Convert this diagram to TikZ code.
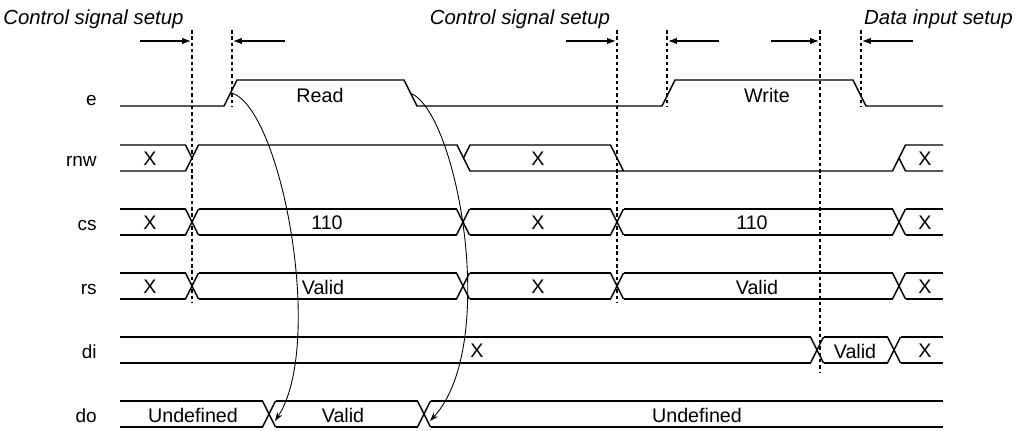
\documentclass[tikz,border=0pt]{standalone}
\usepackage{fontspec}
\setmainfont{Liberation Sans}
\usetikzlibrary{arrows.meta}
\newcommand*{\HalfH}{13}
\newcommand*{\Slope}{6.5}
\newcommand*{\TraceL}{113.5}% 120 minus slope: open left end
\newcommand*{\TraceR}{949.5}% 943 plus slope: open right end
\newcommand*{\BusCells}[3]{% #1 = row name, #2 = row centre, #3 = list of from/to/textx/text
  \foreach \a/\b/\t/\text in {#3} {
    \draw [trace] (\a+\Slope,#2-\HalfH) -- (\b-\Slope,#2-\HalfH)
      (\a+\Slope,#2+\HalfH) -- (\b-\Slope,#2+\HalfH);
    \node [sig] (#1-\t) at (\t,#2+1) {\text};
  }%
}
\newcommand*{\Crossings}[2]{% #1 = row centre, #2 = list of crossing x
  \foreach \c in {#2} {
    \draw [trace] (\c-\Slope,#1-\HalfH) -- (\c+\Slope,#1+\HalfH)
      (\c-\Slope,#1+\HalfH) -- (\c+\Slope,#1-\HalfH);
  }%
}
\tikzset{
  trace/.style={line width=0.8pt, line join=miter},
  guide/.style={line width=0.7pt, dash pattern=on 2pt off 1.6pt},
  setup/.style={line width=0.6pt, -{Latex[length=5pt,width=3.6pt]}},
  cause/.style={line width=0.5pt, -{Stealth[length=5pt,width=3.4pt]}},
  sig/.style={font=\fontsize{11.2}{13}\selectfont, inner sep=0pt},
  rowlabel/.style={font=\fontsize{10.8}{13}\selectfont, anchor=base east, inner sep=0pt},
  heading/.style={font=\fontsize{11.6}{14}\selectfont\itshape, inner sep=0pt}
}

\begin{document}
\begin{tikzpicture}[x=0.02cm, y=-0.02cm]
  \useasboundingbox (0,0) rectangle (1029,430);

  % setup headings
  \node [heading, anchor=base west] (hd-left) at (3,24) {Control signal setup};
  \node [heading, anchor=base] (hd-mid) at (520,24) {Control signal setup};
  \node [heading, anchor=base east] (hd-right) at (1013,24) {Data input setup};

  % guide lines and setup arrows
  \foreach \x/\yb in {192/302, 232/107, 617/302, 667/107, 820/372, 861/107} {
    \draw [guide] (\x,30) -- (\x,\yb);
  }
  \foreach \s/\e [count=\i] in {140/191, 285/233, 566/616, 719/668, 771/819, 913/862} {
    \coordinate (from\i) at (\s,41);
    \coordinate (to\i) at (\e,41);
    \draw [setup] (from\i) -- (to\i);
  }

  % row labels
  \foreach \name/\y in {e/105, rnw/166, cs/230, rs/294, di/358, do/422} {
    \node [rowlabel] (lb-\name) at (97,\y) {\name};
  }

  % e
  \draw [trace] (120,106) -- (224,106) -- (237,80) -- (404,80) -- (417,106)
    -- (662,106) -- (675,80) -- (853,80) -- (866,106) -- (943,106);
  \node [sig] (e-read) at (320,95) {Read};
  \node [sig] (e-write) at (767,95) {Write};

  % rnw
  \draw [trace] (120,145) -- (185.5,145) -- (192,158) -- (185.5,171) -- (120,171);
  \draw [trace] (192,158) -- (198.5,145) -- (457,145) -- (470,171) -- (892.5,171)
    -- (899,158) -- (905.5,145) -- (943,145);
  \draw [trace] (899,158) -- (905.5,171) -- (943,171);
  \draw [trace] (463.5,158) -- (470,145) -- (610.5,145) -- (623.5,171);
  \node [sig] (rnw-150) at (150,159) {X};
  \node [sig] (rnw-538) at (538,159) {X};
  \node [sig] (rnw-925) at (925,159) {X};

  % cs
  \BusCells{cs}{222}{\TraceL/192/150/X, 192/463/327/110, 463/617/538/X,
    617/899/752/110, 899/\TraceR/925/X}
  \Crossings{222}{192, 463, 617, 899}

  % rs
  \BusCells{rs}{286}{\TraceL/192/150/X, 192/463/323/Valid, 463/617/538/X,
    617/899/757/Valid, 899/\TraceR/925/X}
  \Crossings{286}{192, 463, 617, 899}

  % di
  \BusCells{di}{350}{\TraceL/817/477/X, 817/894/855/Valid, 894/\TraceR/925/X}
  \Crossings{350}{817, 894}

  % do
  \BusCells{do}{414}{\TraceL/269/193/Undefined, 269/424/343/Valid,
    424/\TraceR/697/Undefined}
  \Crossings{414}{269, 424}

  % e edges to do
  \coordinate (rise-read) at (232,93);
  \coordinate (fall-read) at (410,93);
  \coordinate (do-valid) at (275,421);
  \coordinate (do-undef) at (430,421);
  \draw [cause] (rise-read) .. controls (282,110) and (325,345) .. (do-valid);
  \draw [cause] (fall-read) .. controls (457,110) and (500,345) .. (do-undef);
\end{tikzpicture}
\end{document}
